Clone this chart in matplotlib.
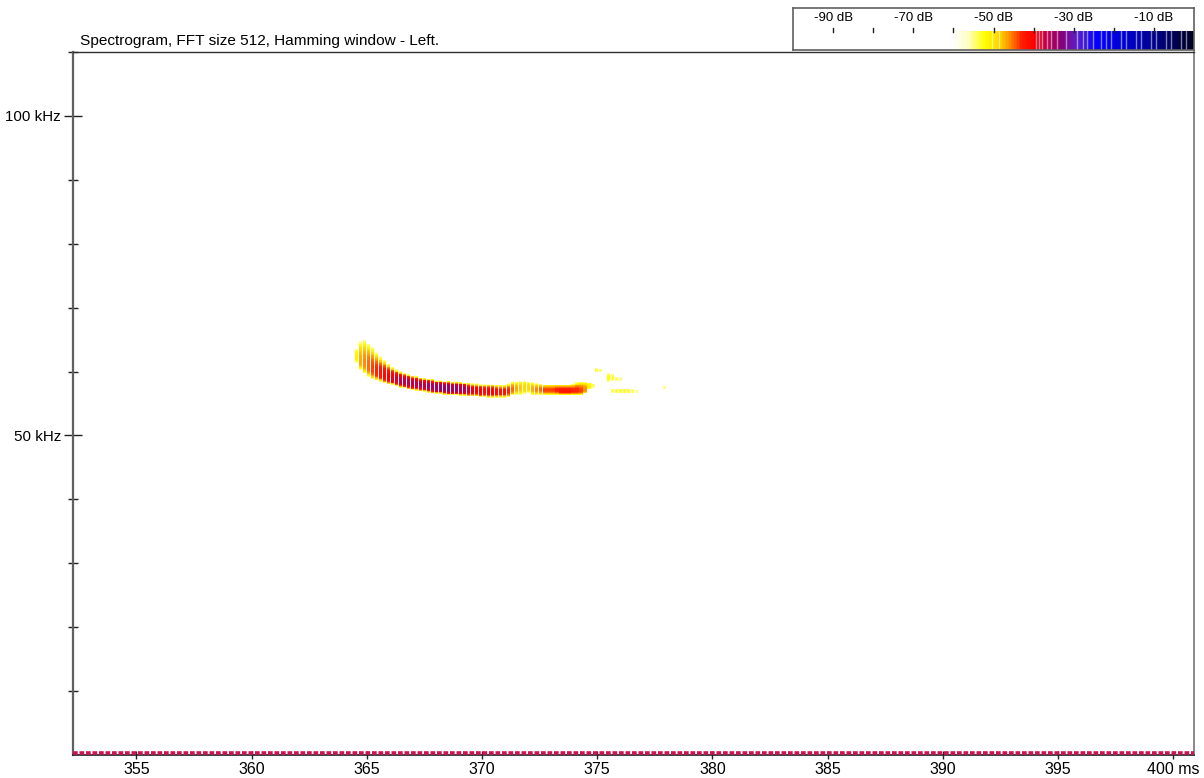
import numpy as np
import matplotlib
matplotlib.use('Agg')
import matplotlib.pyplot as plt
from matplotlib.colors import LinearSegmentedColormap, Normalize

plt.rcParams['font.family'] = ['Liberation Sans', 'DejaVu Sans']

# ---------------- data ----------------
title_text = "Spectrogram, FFT size 512, Hamming window - Left."
x_ticks = [355, 360, 365, 370, 375, 380, 385, 390, 395, 400]
x_tick_labels = ["355", "360", "365", "370", "375", "380", "385", "390", "395", "400 ms"]
y_major = [50, 100]
y_major_labels = ["50 kHz", "100 kHz"]
y_minor = [10, 20, 30, 40, 60, 70, 80, 90, 110]
cbar_ticks = [-90, -80, -70, -60, -50, -40, -30, -20, -10]
cbar_labels = {-90: "-90 dB", -70: "-70 dB", -50: "-50 dB", -30: "-30 dB", -10: "-10 dB"}
cbar_light_lines_db = [-59, -58, -57, -56, -50.3, -48.7, -39.5, -38.7, -37.8, -36.75,
                       -35.75, -34.1, -32, -29.1, -27.8, -26.6, -25.3, -23.25, -22,
                       -20.75, -18.25, -17, -14.5, -13.25, -10.75, -9.5, -7, -5.75,
                       -3.25, -2]

frame_step_ms = 0.174
ridge_start_ms = 364.55
ridge_top_khz = [63.6, 64.7, 64.9, 64.4, 63.8, 63.0, 62.3, 61.8, 61.2, 60.7,
                 60.3, 60.0, 59.8, 59.6, 59.4, 59.3, 59.1, 59.0, 58.9, 58.8,
                 58.6, 58.6, 58.5, 58.5, 58.4, 58.4, 58.4, 58.3, 58.2, 58.1,
                 58.1, 58.0, 58.0, 58.0, 58.0, 57.9, 57.9, 57.9, 58.1, 58.4,
                 58.4, 58.5, 58.5, 58.4, 58.3, 58.2, 58.1, 58.0, 58.0, 58.0,
                 58.0, 58.0, 58.0, 58.0, 58.1, 58.3, 58.4, 58.4, 58.3, 58.1]
ridge_bot_khz = [61.4, 60.3, 59.7, 59.2, 58.8, 58.6, 58.4, 58.2, 58.0, 57.9,
                 57.7, 57.5, 57.4, 57.2, 57.1, 57.0, 56.9, 56.8, 56.7, 56.6,
                 56.5, 56.5, 56.4, 56.3, 56.3, 56.3, 56.2, 56.2, 56.1, 56.1,
                 56.1, 56.0, 56.0, 55.9, 55.9, 55.9, 55.9, 55.9, 56.0, 56.3,
                 56.4, 56.4, 56.5, 56.7, 56.4, 56.4, 56.4, 56.4, 56.4, 56.4,
                 56.4, 56.4, 56.4, 56.4, 56.4, 56.4, 56.4, 56.6, 57.2, 57.4]
ridge_peak_khz = [62.2, 61.5, 61.2, 60.7, 60.2, 59.8, 59.5, 59.2, 59.0, 58.8,
                  58.7, 58.5, 58.4, 58.2, 58.1, 58.0, 57.9, 57.8, 57.7, 57.6,
                  57.5, 57.5, 57.4, 57.4, 57.3, 57.3, 57.2, 57.2, 57.1, 57.1,
                  57.0, 56.9, 56.9, 56.8, 56.8, 56.8, 56.8, 56.8, 56.9, 57.1,
                  57.3, 57.4, 57.5, 57.4, 57.2, 57.1, 57.1, 57.0, 57.0, 57.0,
                  57.0, 56.9, 56.9, 56.9, 56.9, 56.9, 56.9, 57.1, 57.7, 57.8]
ridge_peak_db = [-51, -47, -46, -45, -44, -43, -42, -41, -40, -39,
                 -38, -37, -37, -37, -37, -37, -37, -37, -36, -35,
                 -35, -34, -34, -34, -35, -35, -36, -36, -38, -39,
                 -40, -40, -41, -40, -40, -41, -42, -42, -43, -45,
                 -47, -48, -49, -49, -47, -46, -45, -44, -44, -44,
                 -43, -42, -42, -42, -43, -43, -44, -46, -51, -54]

blob_t_ms = [374.97, 375.14, 375.49, 375.66, 375.66, 375.83, 375.83, 376.01,
             376.01, 376.18, 376.35, 376.53, 376.70, 377.92]
blob_lo_khz = [59.9, 59.9, 58.4, 58.5, 56.7, 58.5, 56.6, 58.5, 56.6, 56.6, 56.6, 56.6, 56.7, 57.3]
blob_hi_khz = [60.5, 60.4, 59.7, 59.6, 57.3, 59.2, 57.3, 59.1, 57.3, 57.3, 57.3, 57.2, 57.2, 57.8]
blob_db = [-53, -54, -52, -53, -54, -54, -53, -55, -53, -53, -53, -54, -55, -55]

dc_band_khz = 0.3

# ---------------- style ----------------
W, H = 1204, 778
fig = plt.figure(figsize=(W / 100, H / 100), dpi=100, facecolor='white')
ax = fig.add_axes([73 / W, 1 - 755 / H, (1194 - 73) / W, (755 - 52) / H])

stops = [(-100, '#ffffff'), (-60, '#ffffff'), (-56, '#ffffb0'), (-52, '#ffff00'),
         (-48.5, '#ffd400'), (-46, '#ff9000'), (-43, '#ff2000'), (-40, '#ff0000'),
         (-37, '#c0004a'), (-33, '#880078'), (-29, '#5a20c8'), (-24, '#0000ff'),
         (-16, '#0000c8'), (-10, '#000090'), (0, '#000020')]
cmap = LinearSegmentedColormap.from_list(
    'spec', [((d + 100) / 100, c) for d, c in stops])
cmap.set_bad((1, 1, 1, 0))
norm = Normalize(vmin=-100, vmax=0)

col_w = frame_step_ms * 0.82
df = 0.12
edge_db = -56.0


def draw_frame(t, lo, hi, fp, peak):
    f_edges = np.arange(lo, hi + df * 0.5, df)
    if len(f_edges) < 2:
        f_edges = np.array([lo, hi])
    fc = 0.5 * (f_edges[:-1] + f_edges[1:])
    up = max(hi - fp, 1e-6)
    dn = max(fp - lo, 1e-6)
    d = np.clip(np.where(fc >= fp, (fc - fp) / up, (fp - fc) / dn), 0, 1)
    vals = peak - (peak - edge_db) * d ** 3
    ax.pcolormesh([t - col_w / 2, t + col_w / 2], f_edges, vals[:, None],
                  cmap=cmap, norm=norm, shading='flat', antialiased=False,
                  edgecolors='none', rasterized=True)


for i in range(len(ridge_peak_db)):
    t = ridge_start_ms + frame_step_ms * i
    draw_frame(t, ridge_bot_khz[i], ridge_top_khz[i], ridge_peak_khz[i], ridge_peak_db[i])

for t, lo, hi, db in zip(blob_t_ms, blob_lo_khz, blob_hi_khz, blob_db):
    draw_frame(t, lo, hi, 0.5 * (lo + hi), db)

ax.axhline(dc_band_khz, color='#cc1450', lw=2.6, dashes=(1.3, 0.5),
           solid_capstyle='butt', zorder=3)

ax.set_xlim(352.25, 400.9)
ax.set_ylim(0, 110)
ax.set_xticks(x_ticks)
ax.set_xticklabels(x_tick_labels)
ax.set_yticks(y_major)
ax.set_yticklabels(y_major_labels)
ax.set_yticks(y_minor, minor=True)
ax.tick_params(axis='y', which='major', direction='inout', length=13, width=1,
               pad=2.2, labelsize=10.9, color='#202020')
ax.tick_params(axis='y', which='minor', direction='inout', length=7, width=1,
               color='#202020')
ax.tick_params(axis='x', which='major', direction='inout', length=6, width=1,
               pad=2, labelsize=11.5, color='#202020')
ax.spines['left'].set_color('#606060')
ax.spines['left'].set_linewidth(1.6)
ax.spines['right'].set_color('#808080')
ax.spines['right'].set_linewidth(1.3)
ax.spines['top'].set_color('#303030')
ax.spines['top'].set_linewidth(1.0)
ax.spines['bottom'].set_color('#202020')
ax.spines['bottom'].set_linewidth(1.2)

fig.text(80 / W, 1 - 41 / H, title_text, fontsize=11.1, va='center', ha='left')

# colour bar
cax = fig.add_axes([793 / W, 1 - 50 / H, 401 / W, 42 / H])
cax.set_xlim(-100, 0)
cax.set_ylim(0, 1)
grad = np.linspace(-100, 0, 800)[None, :]
cax.imshow(grad, cmap=cmap, norm=norm, extent=(-100, 0, 0, 0.45), aspect='auto',
           interpolation='nearest')
for lv in cbar_light_lines_db:
    cax.plot([lv, lv], [0, 0.45], color='white', lw=1.0, alpha=0.5)
for tk in cbar_ticks:
    cax.plot([tk, tk], [0.43, 0.53], color='#202020', lw=1)
    if tk in cbar_labels:
        cax.text(tk, 0.76, cbar_labels[tk], ha='center', va='center', fontsize=9.5)
cax.set_xticks([])
cax.set_yticks([])
for s in cax.spines.values():
    s.set_color('#606060')
    s.set_linewidth(1.2)

fig.savefig('out.png', dpi=100, facecolor='white')
